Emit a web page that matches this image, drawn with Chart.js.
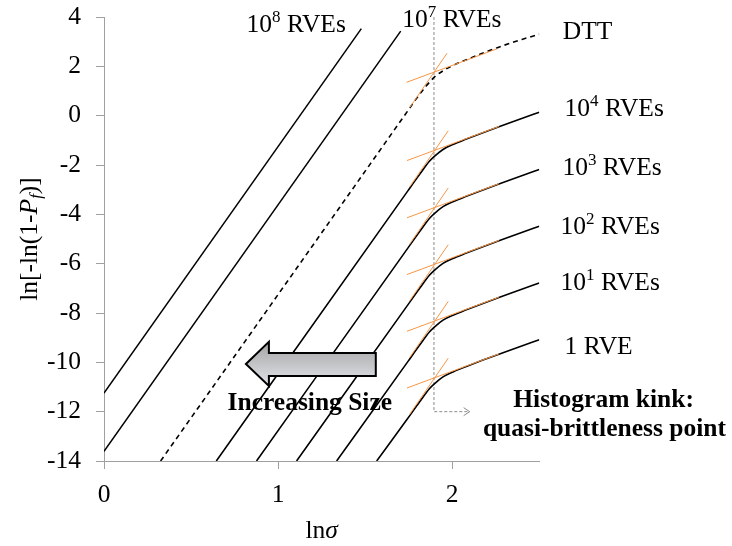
<!DOCTYPE html>
<html>
<head>
<meta charset="utf-8">
<script src="https://cdn.jsdelivr.net/npm/chart.js@4.4.1/dist/chart.umd.min.js"></script>
<style>
html,body{margin:0;padding:0;background:#fff;}
canvas{display:block;}
</style>
</head>
<body>
<canvas id="c" width="732" height="546"></canvas>
<script>
// ---------------- data ----------------
const xTickValues = [0, 1, 2];
const yTickValues = [-14, -12, -10, -8, -6, -4, -2, 0, 2, 4];

// straight Weibull lines for very large sizes
const rve1e8X = [0.000, 1.478];
const rve1e8Y = [-11.25, 3.53];
const rve1e7X = [0.000, 1.704];
const rve1e7Y = [-13.61, 3.43];

// DTT (dashed)
const dttX = [0.325, 1.756, 1.800, 1.850, 1.875, 1.900, 1.950, 2.000, 2.100, 2.200, 2.300, 2.400, 2.500];
const dttY = [-14.00, 0.31, 0.75, 1.20, 1.40, 1.58, 1.83, 2.02, 2.32, 2.60, 2.86, 3.09, 3.30];

// curved size-effect lines: start point on the bottom edge, then the knee region
const curveStartX = [1.566, 1.336, 1.106, 0.876, 0.645];   // 1, 10, 100, 1e3, 1e4 RVEs
const curveStartY = -14;
const kneeX = [1.746, 1.813, 1.870, 1.899, 1.947, 2.004, 2.081, 2.176, 2.272, 2.387, 2.500];
const rve1Y     = [-12.26, -11.60, -11.06, -10.86, -10.59, -10.39, -10.17, -9.91, -9.66, -9.37, -9.08];
const rve10Y    = [-9.96, -9.30, -8.76, -8.56, -8.29, -8.09, -7.87, -7.61, -7.36, -7.07, -6.78];
const rve100Y   = [-7.66, -7.00, -6.46, -6.26, -5.99, -5.79, -5.57, -5.31, -5.06, -4.77, -4.48];
const rve1000Y  = [-5.36, -4.70, -4.16, -3.96, -3.69, -3.49, -3.27, -3.01, -2.76, -2.47, -2.18];
const rve10000Y = [-3.04, -2.38, -1.84, -1.64, -1.37, -1.17, -0.95, -0.69, -0.44, -0.15, 0.14];

// orange tangent segments (steep and shallow) at the kink
const tanSteepX = [1.756, 1.977];
const tanShallowX = [1.740, 2.268];
const tanSteepY = [[-12.10, -9.83], [-9.80, -7.53], [-7.50, -5.23], [-5.20, -2.93], [-2.88, -0.61]];
const tanShallowY = [[-11.04, -9.66], [-8.74, -7.36], [-6.44, -5.06], [-4.14, -2.76], [-1.82, -0.44]];
const dttSteepX = [1.756, 1.970];
const dttSteepY = [0.33, 2.53];
const dttShallowX = [1.737, 2.257];
const dttShallowY = [1.35, 2.71];

// histogram-kink marker (dashed gray)
const kinkX = [1.895, 1.895, 2.100];
const kinkY = [4.00, -12.00, -12.00];

// ---------------- helpers ----------------
const SERIF = '"Liberation Serif", "Times New Roman", Times, serif';
const FS = 25.5;
const fnt = (size, style) => (style ? style + ' ' : '') + size + 'px ' + SERIF;
const pts = (xs, ys) => xs.map((x, i) => ({x: x, y: ys[i]}));
const BLACK = '#000000';
const ORANGE = '#F79646';

const curveYs = [rve1Y, rve10Y, rve100Y, rve1000Y, rve10000Y];

const datasets = [];
// orange tangents on top
tanSteepY.forEach((ys, i) => {
  datasets.push({data: pts(tanSteepX, ys), borderColor: ORANGE, borderWidth: 1, order: 0});
  datasets.push({data: pts(tanShallowX, tanShallowY[i]), borderColor: ORANGE, borderWidth: 1, order: 0});
});
datasets.push({data: pts(dttSteepX, dttSteepY), borderColor: ORANGE, borderWidth: 1, order: 0});
datasets.push({data: pts(dttShallowX, dttShallowY), borderColor: ORANGE, borderWidth: 1, order: 0});
// black lines
datasets.push({data: pts(rve1e8X, rve1e8Y), borderColor: BLACK, borderWidth: 1.5, order: 1});
datasets.push({data: pts(rve1e7X, rve1e7Y), borderColor: BLACK, borderWidth: 1.5, order: 1});
datasets.push({data: pts(dttX, dttY), borderColor: BLACK, borderWidth: 1.6, borderDash: [5, 4], cubicInterpolationMode: 'monotone', order: 1});
curveYs.forEach((ys, i) => {
  datasets.push({
    data: pts([curveStartX[i]].concat(kneeX), [curveStartY].concat(ys)),
    borderColor: BLACK, borderWidth: 1.6, cubicInterpolationMode: 'monotone', order: 1
  });
});
// kink marker
datasets.push({data: pts(kinkX, kinkY), borderColor: '#8c8c8c', borderWidth: 1, borderDash: [3, 2], order: 2, clip: false});

// ---------------- text annotations ----------------
const sup = (b, e, r) => [{t: b, font: fnt(FS)}, {t: e, font: fnt(17), dy: -10}, {t: r, font: fnt(FS)}];
const seriesLabels = [
  {runs: sup('10', '8', ' RVEs'), x: 0.819, y: 3.41},
  {runs: sup('10', '7', ' RVEs'), x: 1.713, y: 3.59},
  {runs: [{t: 'DTT', font: fnt(FS)}], x: 2.635, y: 3.11},
  {runs: sup('10', '4', ' RVEs'), x: 2.645, y: -0.01},
  {runs: sup('10', '3', ' RVEs'), x: 2.633, y: -2.40},
  {runs: sup('10', '2', ' RVEs'), x: 2.622, y: -4.81},
  {runs: sup('10', '1', ' RVEs'), x: 2.622, y: -7.08},
  {runs: [{t: '1 RVE', font: fnt(FS)}], x: 2.645, y: -9.66}
];
const noteLabels = [
  {runs: [{t: 'Histogram kink:', font: fnt(FS, 'bold')}], x: 2.869, y: -11.81, align: 'center'},
  {runs: [{t: 'quasi-brittleness point', font: fnt(FS, 'bold')}], x: 2.874, y: -12.98, align: 'center'},
  {runs: [{t: 'Increasing Size', font: fnt(FS, 'bold')}], x: 1.182, y: -11.93, align: 'center'}
];
// big arrow (data coords)
const arrowShape = {tipX: 0.815, tipY: -10.07, headX: 0.947, headTop: -9.17, headBot: -10.96,
                    shaftRight: 1.561, shaftTop: -9.62, shaftBot: -10.55};

function drawRuns(ctx, runs, x, y, align) {
  let w = 0;
  runs.forEach(r => { ctx.font = r.font; r.w = ctx.measureText(r.t).width; w += r.w; });
  let cx = align === 'center' ? x - w / 2 : (align === 'right' ? x - w : x);
  runs.forEach(r => { ctx.font = r.font; ctx.fillText(r.t, cx, y + (r.dy || 0)); cx += r.w; });
}

const annotate = {
  id: 'annotate',
  afterDatasetsDraw(chart) {
    const ctx = chart.ctx, xs = chart.scales.x, ys = chart.scales.y;
    const X = v => xs.getPixelForValue(v), Y = v => ys.getPixelForValue(v);
    ctx.save();
    // kink arrow head
    const ax = X(kinkX[2]), ay = Y(kinkY[2]);
    ctx.strokeStyle = '#8c8c8c'; ctx.lineWidth = 1; ctx.setLineDash([]);
    ctx.beginPath(); ctx.moveTo(ax - 6, ay - 4); ctx.lineTo(ax, ay); ctx.lineTo(ax - 6, ay + 4); ctx.stroke();

    // big "increasing size" arrow
    const a = arrowShape;
    const g = ctx.createLinearGradient(0, Y(a.headTop), 0, Y(a.headBot));
    g.addColorStop(0, '#a4a4a4'); g.addColorStop(0.5, '#c3c4c6'); g.addColorStop(1, '#e2e5eb');
    ctx.beginPath();
    ctx.moveTo(X(a.tipX), Y(a.tipY));
    ctx.lineTo(X(a.headX), Y(a.headTop));
    ctx.lineTo(X(a.headX), Y(a.shaftTop));
    ctx.lineTo(X(a.shaftRight), Y(a.shaftTop));
    ctx.lineTo(X(a.shaftRight), Y(a.shaftBot));
    ctx.lineTo(X(a.headX), Y(a.shaftBot));
    ctx.lineTo(X(a.headX), Y(a.headBot));
    ctx.closePath();
    ctx.fillStyle = g; ctx.fill();
    ctx.lineWidth = 2; ctx.strokeStyle = '#000'; ctx.lineJoin = 'miter'; ctx.stroke();

    // texts
    ctx.fillStyle = '#000'; ctx.textBaseline = 'alphabetic'; ctx.textAlign = 'left';
    seriesLabels.forEach(l => drawRuns(ctx, l.runs, X(l.x), Y(l.y), 'left'));
    noteLabels.forEach(l => drawRuns(ctx, l.runs, X(l.x), Y(l.y), l.align));

    // axis titles
    const ca = chart.chartArea;
    drawRuns(ctx, [{t: 'ln', font: fnt(FS)}, {t: 'σ', font: fnt(FS, 'italic')}], (ca.left + ca.right) / 2, 538, 'center');
    ctx.translate(37, (ca.top + ca.bottom) / 2);
    ctx.rotate(-Math.PI / 2);
    drawRuns(ctx, [
      {t: 'ln[-ln(1-', font: fnt(FS)},
      {t: 'P', font: fnt(FS, 'italic')},
      {t: 'f', font: fnt(17, 'italic'), dy: 4},
      {t: ')]', font: fnt(FS)}
    ], 0, 0, 'center');
    ctx.restore();
  }
};

const axisGray = '#a0a0a0';
new Chart(document.getElementById('c'), {
  type: 'scatter',
  data: {datasets: datasets.map(d => Object.assign({showLine: true, pointRadius: 0, pointHoverRadius: 0, fill: false}, d))},
  options: {
    responsive: false, animation: false, devicePixelRatio: 1,
    layout: {padding: {left: 0, right: 192.7, top: 17, bottom: 0}},
    plugins: {legend: {display: false}, tooltip: {enabled: false}},
    events: [],
    scales: {
      x: {
        type: 'linear', min: 0, max: 2.5,
        afterBuildTicks: s => { s.ticks = xTickValues.map(v => ({value: v})); },
        ticks: {font: {family: SERIF, size: FS}, color: '#000', padding: 11, maxRotation: 0},
        grid: {drawOnChartArea: false, drawTicks: true, tickLength: 8, color: axisGray},
        border: {color: axisGray, width: 1},
        afterFit: s => { s.height = 85; s.paddingLeft = 0; s.paddingRight = 0; }
      },
      y: {
        type: 'linear', min: -14, max: 4,
        afterBuildTicks: s => { s.ticks = yTickValues.map(v => ({value: v})); },
        ticks: {font: {family: SERIF, size: FS}, color: '#000', padding: 15},
        grid: {drawOnChartArea: false, drawTicks: true, tickLength: 8, color: axisGray},
        border: {color: axisGray, width: 1},
        afterFit: s => { s.width = 104; s.paddingTop = 0; s.paddingBottom = 0; }
      }
    }
  },
  plugins: [annotate]
});
</script>
</body>
</html>
